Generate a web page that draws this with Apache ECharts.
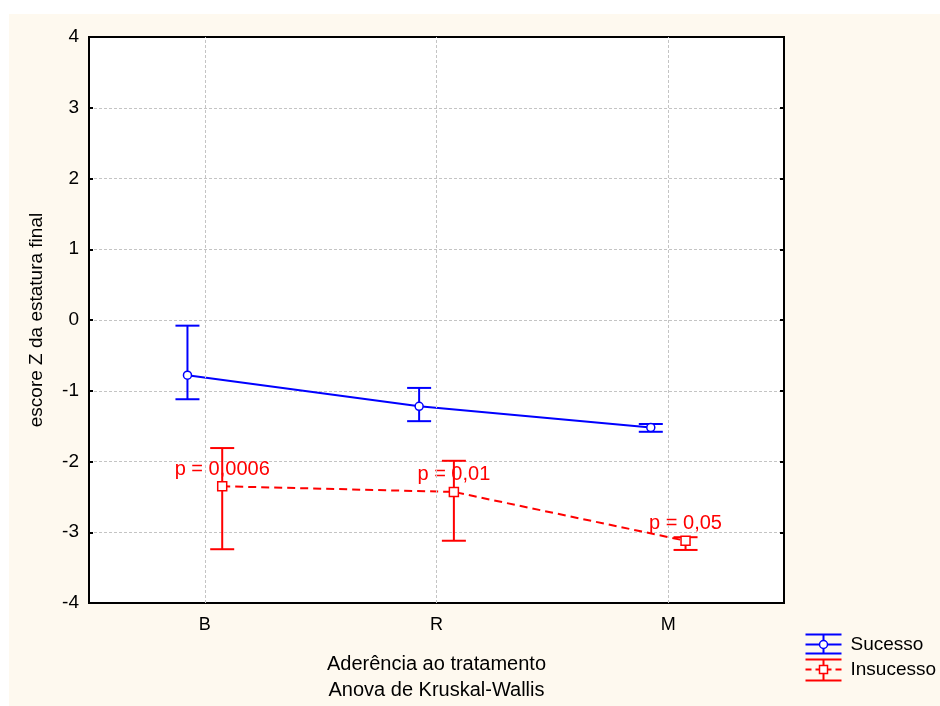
<!DOCTYPE html>
<html>
<head>
<meta charset="utf-8">
<script src="https://cdn.jsdelivr.net/npm/echarts@6/dist/echarts.min.js"></script>
<style>
  html, body { margin: 0; padding: 0; background: #fff; }
  #chart { width: 940px; height: 706px; }
</style>
</head>
<body>
<div id="chart"></div>
<script>
// data
var categories = ['B', 'R', 'M'];
var sucessoMean = [-0.78, -1.22, -1.52];
var sucessoUpper = [-0.08, -0.96, -1.47];
var sucessoLower = [-1.12, -1.43, -1.58];
var insucessoMean = [-2.35, -2.43, -3.12];
var insucessoUpper = [-1.81, -1.99, -3.07];
var insucessoLower = [-3.24, -3.12, -3.25];
var pLabels = ['p = 0,0006', 'p = 0,01', 'p = 0,05'];
var yTicks = [-4, -3, -2, -1, 0, 1, 2, 3, 4];

var FONT = 'Liberation Sans, Arial, sans-serif';
var BLUE = '#0000ff';
var RED = '#ff0000';
var GRIDLINE = { color: '#c4c4c4', type: [3, 2], width: 1 };
var SHIFT = 0.075; // groups are drawn a little apart around each category

function pts(vals, shift) {
  return vals.map(function (v, i) { return [i + shift, v]; });
}
function bars(lo, hi, shift) {
  return lo.map(function (v, i) { return [i + shift, v, hi[i]]; });
}

function errorBar(color) {
  return function (params, api) {
    var x = api.value(0);
    var lo = api.coord([x, api.value(1)]);
    var hi = api.coord([x, api.value(2)]);
    var w = 12;
    var st = { stroke: color, lineWidth: 2 };
    return {
      type: 'group',
      children: [
        { type: 'line', shape: { x1: lo[0], y1: lo[1], x2: hi[0], y2: hi[1] }, style: st },
        { type: 'line', shape: { x1: lo[0] - w, y1: lo[1], x2: lo[0] + w, y2: lo[1] }, style: st },
        { type: 'line', shape: { x1: hi[0] - w, y1: hi[1], x2: hi[0] + w, y2: hi[1] }, style: st }
      ]
    };
  };
}

var myChart = echarts.init(document.getElementById('chart'));

myChart.setOption({
  backgroundColor: '#ffffff',
  animation: false,
  textStyle: { fontFamily: FONT },
  grid: {
    left: 89, top: 37, width: 695, height: 566,
    outerBoundsMode: 'none', containLabel: false,
    show: true, backgroundColor: '#ffffff', borderColor: '#000', borderWidth: 2
  },
  xAxis: [
    {
      type: 'category',
      data: categories,
      boundaryGap: true,
      axisLine: { onZero: false, lineStyle: { color: '#000', width: 2 } },
      axisTick: { inside: true, alignWithLabel: true, length: 4, lineStyle: { color: '#000', width: 2 } },
      axisLabel: { color: '#000', fontSize: 18, margin: 13, fontFamily: FONT },
      splitLine: { show: false },
      name: 'Aderência ao tratamento\nAnova de Kruskal-Wallis',
      nameLocation: 'middle',
      nameGap: 48,
      nameTextStyle: { color: '#000', fontSize: 20, lineHeight: 26, fontFamily: FONT }
    },
    { type: 'value', min: -0.5, max: 2.5, show: false, axisLine: { onZero: false } }
  ],
  yAxis: [
    {
      type: 'value', min: -4, max: 4, interval: 1,
      axisLine: { show: true, onZero: false, lineStyle: { color: '#000', width: 2 } },
      axisTick: { show: true, inside: true, length: 4, lineStyle: { color: '#000', width: 2 } },
      axisLabel: {
        color: '#000', fontSize: 19, margin: 10, fontFamily: FONT,
        formatter: function (v) { return yTicks.indexOf(v) >= 0 ? String(v) : ''; }
      },
      splitLine: { show: true, showMinLine: false, showMaxLine: false, lineStyle: GRIDLINE },
      name: 'escore Z da estatura final',
      nameLocation: 'middle',
      nameGap: 43,
      nameRotate: 90,
      nameTextStyle: { color: '#000', fontSize: 19, fontFamily: FONT }
    },
    {
      type: 'value', min: -4, max: 4, interval: 1, position: 'right',
      axisLine: { show: true, onZero: false, lineStyle: { color: '#000', width: 2 } },
      axisTick: { show: true, inside: true, length: 4, lineStyle: { color: '#000', width: 2 } },
      axisLabel: { show: false },
      splitLine: { show: false }
    }
  ],
  series: [
    {
      // vertical grid lines through each category
      type: 'line', xAxisIndex: 1, z: 1, data: [], silent: true,
      markLine: {
        silent: true, symbol: 'none', label: { show: false },
        lineStyle: GRIDLINE,
        data: categories.map(function (c, i) { return { xAxis: i }; })
      }
    },
    {
      type: 'custom', xAxisIndex: 1, z: 3,
      renderItem: errorBar(BLUE),
      data: bars(sucessoLower, sucessoUpper, -SHIFT)
    },
    {
      type: 'custom', xAxisIndex: 1, z: 3,
      renderItem: errorBar(RED),
      data: bars(insucessoLower, insucessoUpper, SHIFT)
    },
    {
      name: 'Sucesso', type: 'line', xAxisIndex: 1, z: 4,
      data: pts(sucessoMean, -SHIFT),
      symbol: 'circle', symbolSize: 8,
      itemStyle: { color: '#fff', borderColor: BLUE, borderWidth: 1.5 },
      lineStyle: { color: BLUE, width: 2 }
    },
    {
      name: 'Insucesso', type: 'line', xAxisIndex: 1, z: 4,
      data: pts(insucessoMean, SHIFT),
      symbol: 'rect', symbolSize: 9,
      itemStyle: { color: '#fff', borderColor: RED, borderWidth: 1.5 },
      lineStyle: { color: RED, width: 2, type: [8, 5] },
      label: {
        show: true, position: 'top', distance: 2,
        color: RED, fontSize: 20, fontFamily: FONT,
        formatter: function (p) { return pLabels[p.dataIndex]; }
      }
    }
  ],
  graphic: [
    { type: 'rect', z: -10, silent: true, shape: { x: 9, y: 14, width: 931, height: 692 }, style: { fill: '#fef9ef' } },
    {
      type: 'group', left: 803, top: 632,
      children: [
        { type: 'line', shape: { x1: 0, y1: 1, x2: 36, y2: 1 }, style: { stroke: BLUE, lineWidth: 2 } },
        { type: 'line', shape: { x1: 0, y1: 11, x2: 36, y2: 11 }, style: { stroke: BLUE, lineWidth: 2 } },
        { type: 'line', shape: { x1: 0, y1: 20, x2: 36, y2: 20 }, style: { stroke: BLUE, lineWidth: 2 } },
        { type: 'line', shape: { x1: 18, y1: 1, x2: 18, y2: 20 }, style: { stroke: BLUE, lineWidth: 2 } },
        { type: 'circle', shape: { cx: 18, cy: 11, r: 4 }, style: { fill: '#fff', stroke: BLUE, lineWidth: 1.5 } },
        { type: 'text', x: 45, y: 11, style: { text: 'Sucesso', fill: '#000', fontSize: 19, fontFamily: FONT, verticalAlign: 'middle' } },

        { type: 'line', shape: { x1: 0, y1: 26, x2: 36, y2: 26 }, style: { stroke: RED, lineWidth: 2 } },
        { type: 'line', shape: { x1: 0, y1: 36, x2: 36, y2: 36 }, style: { stroke: RED, lineWidth: 2, lineDash: [6, 4] } },
        { type: 'line', shape: { x1: 0, y1: 47, x2: 36, y2: 47 }, style: { stroke: RED, lineWidth: 2 } },
        { type: 'line', shape: { x1: 18, y1: 26, x2: 18, y2: 47 }, style: { stroke: RED, lineWidth: 2 } },
        { type: 'rect', shape: { x: 14, y: 32, width: 8, height: 8 }, style: { fill: '#fff', stroke: RED, lineWidth: 1.5 } },
        { type: 'text', x: 45, y: 36, style: { text: 'Insucesso', fill: '#000', fontSize: 19, fontFamily: FONT, verticalAlign: 'middle' } }
      ]
    }
  ]
});
</script>
</body>
</html>
